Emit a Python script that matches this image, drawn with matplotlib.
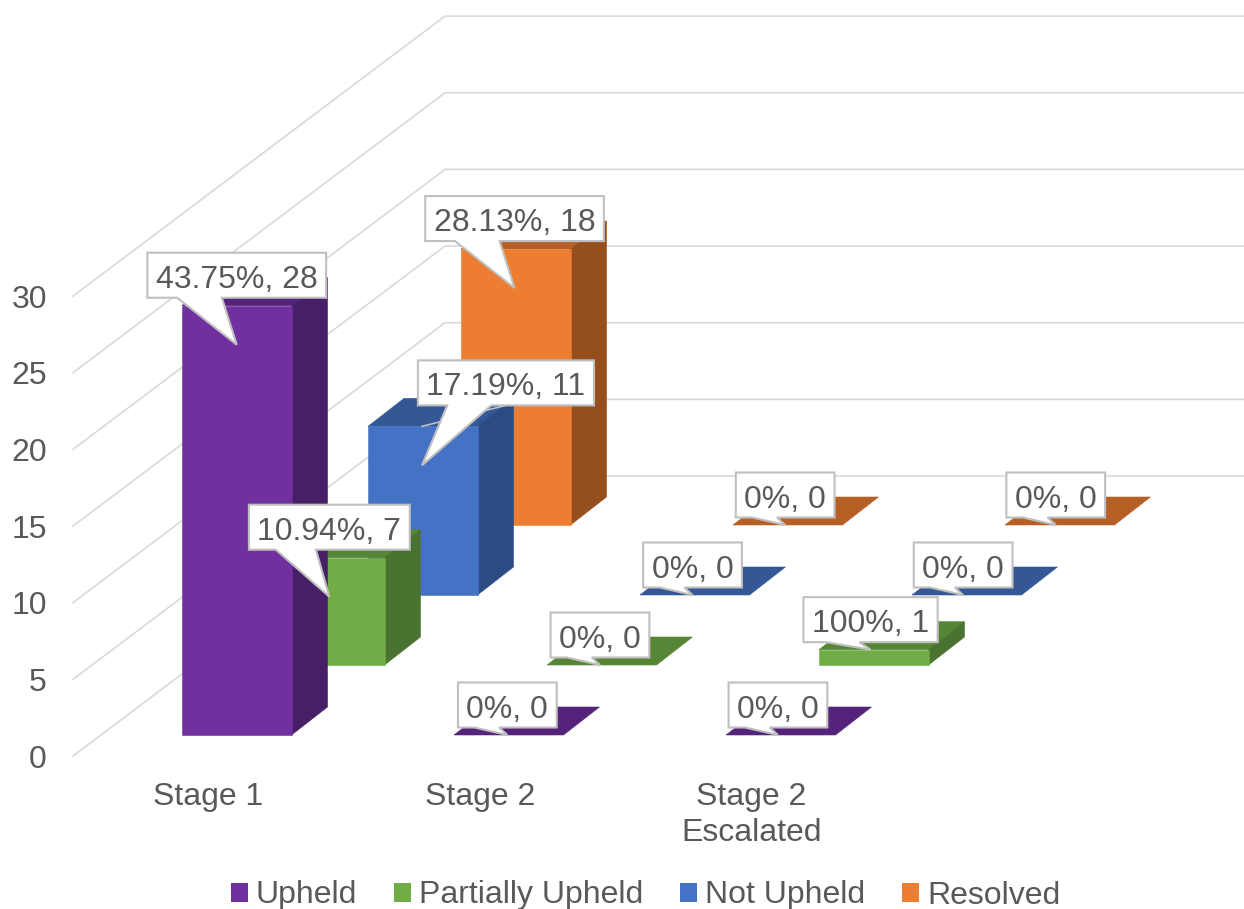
import matplotlib
matplotlib.use("Agg")
import matplotlib.pyplot as plt
from matplotlib.patches import Patch, Polygon

plt.rcParams['font.family'] = ['Liberation Sans', 'DejaVu Sans']

# data
categories = ["Stage 1", "Stage 2", "Stage 2\nEscalated"]
series_names = ["Upheld", "Partially Upheld", "Not Upheld", "Resolved"]
upheld = [28, 0, 0]
partially_upheld = [7, 0, 1]
not_upheld = [11, 0, 0]
resolved = [18, 0, 0]
upheld_pct = ["43.75%", "0%", "0%"]
partially_pct = ["10.94%", "0%", "100%"]
not_upheld_pct = ["17.19%", "0%", "0%"]
resolved_pct = ["28.13%", "0%", "0%"]
y_ticks = [0, 5, 10, 15, 20, 25, 30]

all_values = [upheld, partially_upheld, not_upheld, resolved]
all_pct = [upheld_pct, partially_pct, not_upheld_pct, resolved_pct]

# front, top, side shades per series
front_colors = ["#7030A0", "#70AD47", "#4472C4", "#ED7D31"]
top_colors = ["#55247A", "#568536", "#345795", "#B66025"]
side_colors = ["#471F66", "#4A7230", "#2B4C83", "#954F1E"]

TEXT = "#595959"
GRID = "#D9D9D9"
CALLOUT = "#BFBFBF"
FS = 23

# oblique projection, all in pixels
X0, Y0 = 182, 735
CAT_STEP = 272
SER_DX, SER_DY = 93, 70
BAR_W = 109.5
DEPTH_DX, DEPTH_DY = 36, 28
PX_PER_UNIT = 15.33
WALL_X0, WALL_Y0 = 73, 756
WALL_X1, WALL_Y1 = 445, 476
RIGHT_EDGE = 1244

# the one callout moved off its bar (category, series): (dx, dy) in px
box_shift = {(0, 2): (84, -13)}

fig = plt.figure(figsize=(12.44, 9.09), dpi=100)
ax = fig.add_axes([0, 0, 1, 1])
ax.set_xlim(0, 1244)
ax.set_ylim(909, 0)
ax.axis("off")


def bar_corner(cat, ser, value):
    return (X0 + CAT_STEP * cat + SER_DX * ser,
            Y0 - SER_DY * ser - value * PX_PER_UNIT)


def draw_bar(cat, ser, value):
    x, y0 = bar_corner(cat, ser, 0)
    _, y1 = bar_corner(cat, ser, value)
    xr = x + BAR_W
    dx, dy = DEPTH_DX, DEPTH_DY
    faces = [
        ([(x, y1), (xr, y1), (xr + dx, y1 - dy), (x + dx, y1 - dy)], top_colors[ser]),
    ]
    if value > 0:
        faces.append(([(xr, y0), (xr + dx, y0 - dy), (xr + dx, y1 - dy), (xr, y1)], side_colors[ser]))
        faces.append(([(x, y0), (xr, y0), (xr, y1), (x, y1)], front_colors[ser]))
    for pts, color in faces:
        ax.add_patch(Polygon(pts, closed=True, facecolor=color, edgecolor=color, lw=0.4, zorder=3))


def draw_callout(cat, ser, value, pct):
    x, y_top = bar_corner(cat, ser, value)
    # labels sit on a slightly tighter grid than the bars
    center = x + BAR_W / 2 - 1.4 * cat - 0.4 * ser
    tall = value >= 5
    tip_y = y_top + 39 if tall else y_top
    bottom = tip_y - (47 if tall else 7.5)
    box_h = 45
    label = f"{pct}, {value}"
    t = ax.text(0, 0, label, fontsize=FS, color=TEXT, ha="center", va="center", zorder=7)
    w_px = t.get_window_extent(fig.canvas.get_renderer()).width
    box_w = w_px + 17
    shift_x, shift_y = box_shift.get((cat, ser), (0, 0))
    box_c = center + shift_x
    bottom += shift_y
    left, right = box_c - box_w / 2, box_c + box_w / 2
    top = bottom - box_h
    t.set_position((box_c, (top + bottom) / 2 + 4.5))
    # leader line only shows when the box was dragged away
    if (cat, ser) in box_shift:
        ax.plot([center, box_c], [y_top, bottom], color=CALLOUT, lw=1.2, zorder=5)
    pts = [(left, top), (right, top), (right, bottom),
           (left + box_w * 5 / 12, bottom), (center, tip_y),
           (left + box_w / 6, bottom), (left, bottom)]
    ax.add_patch(Polygon(pts, closed=True, facecolor="white", edgecolor=CALLOUT,
                         lw=1.5, joinstyle="miter", zorder=6))


# walls
for v in y_ticks:
    y_front = WALL_Y0 - v * PX_PER_UNIT
    y_back = WALL_Y1 - v * PX_PER_UNIT
    ax.plot([WALL_X0, WALL_X1, RIGHT_EDGE], [y_front, y_back, y_back],
            color=GRID, lw=1.2, zorder=1, solid_joinstyle="miter")
    ax.text(47, y_front + 3.5, str(v), fontsize=FS, color=TEXT, ha="right", va="center")

# bars, back to front
for ser in reversed(range(len(series_names))):
    for cat in range(len(categories)):
        draw_bar(cat, ser, all_values[ser][cat])

# callouts
for ser in range(len(series_names)):
    for cat in range(len(categories)):
        draw_callout(cat, ser, all_values[ser][cat], all_pct[ser][cat])

# category labels
for cat, name in enumerate(categories):
    ax.text(X0 + 26.5 + (CAT_STEP - 0.5) * cat, 782, name, fontsize=FS, color=TEXT,
            ha="center", va="top", linespacing=1.28)

handles = [Patch(facecolor=c, edgecolor="none") for c in front_colors]
ax.legend(handles, series_names, loc="center", bbox_to_anchor=(645.5, 895.5),
          bbox_transform=ax.transData, ncol=4, frameon=False, fontsize=FS,
          labelcolor=TEXT, handlelength=0.53, handleheight=0.53, handletextpad=0.25,
          columnspacing=1.155, borderpad=0, borderaxespad=0)

fig.savefig("out.png", dpi=100)
